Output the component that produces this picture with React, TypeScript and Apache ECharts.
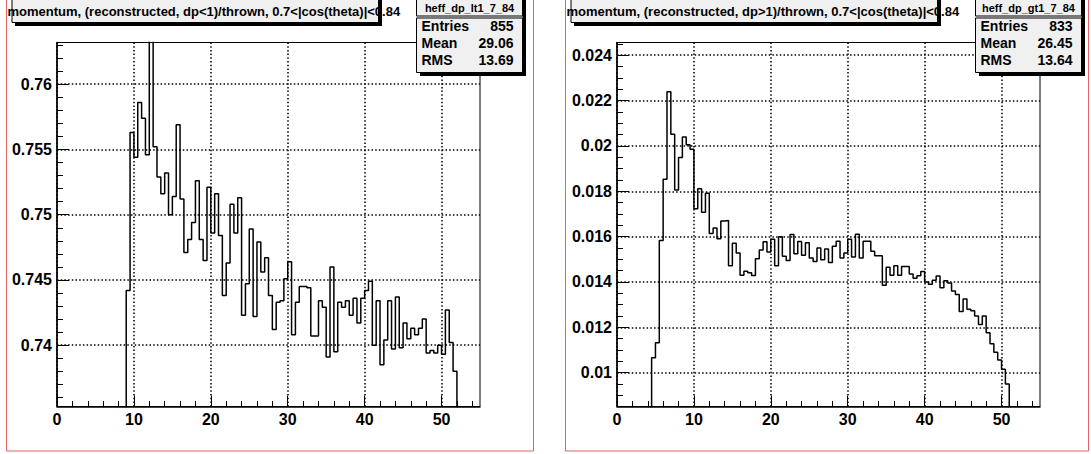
import React, { useEffect, useRef } from "react";
import * as echarts from "echarts";

// ---------------- data ----------------
const binWidth = 0.5;

// heff_dp_lt1_7_84 : bins start at 8.5 (first bin empty)
const ltStart = 8.5;
const ltValues = [
  0, 0.7442, 0.7563, 0.7544, 0.7586, 0.7574, 0.7546, 0.7665, 0.7552, 0.7529,
  0.7516, 0.7532, 0.75, 0.7514, 0.7569, 0.7512, 0.7471, 0.7481, 0.7494, 0.7526,
  0.7481, 0.7465, 0.7521, 0.7486, 0.7516, 0.7484, 0.7438, 0.7463, 0.7508, 0.7486,
  0.7513, 0.7423, 0.7447, 0.7489, 0.7422, 0.7479, 0.7456, 0.7467, 0.7438, 0.7412,
  0.7433, 0.7434, 0.7451, 0.7464, 0.7408, 0.7433, 0.7445, 0.7445, 0.7444, 0.7407,
  0.7407, 0.7434, 0.7429, 0.7391, 0.746, 0.7395, 0.7433, 0.7429, 0.7434, 0.7423,
  0.7436, 0.7417, 0.7436, 0.7442, 0.7449, 0.74, 0.7434, 0.7385, 0.7404, 0.7434,
  0.7397, 0.7437, 0.7398, 0.7417, 0.7405, 0.7413, 0.7408, 0.7413, 0.742, 0.7394,
  0.7396, 0.7394, 0.74, 0.7393, 0.7427, 0.7402, 0.738, 0,
];

// heff_dp_gt1_7_84 : bins start at 4.0 (first bin empty)
const gtStart = 4.0;
const gtValues = [
  0, 0.01066, 0.01132, 0.01583, 0.01853, 0.02239, 0.02051, 0.01806, 0.01949, 0.02039,
  0.02005, 0.01985, 0.01723, 0.01811, 0.01708, 0.01791, 0.01614, 0.01638, 0.01591, 0.01669,
  0.01671, 0.01472, 0.01571, 0.01528, 0.0143, 0.01447, 0.01441, 0.01429, 0.01502, 0.01541,
  0.01577, 0.01532, 0.01588, 0.01472, 0.016, 0.01513, 0.01495, 0.01609, 0.01525, 0.01578,
  0.01518, 0.01573, 0.01506, 0.0149, 0.0155, 0.01498, 0.01546, 0.01486, 0.01558, 0.0158,
  0.01506, 0.01528, 0.01588, 0.0151, 0.0161, 0.01506, 0.0158, 0.0158, 0.01536, 0.01516,
  0.01516, 0.01386, 0.01465, 0.0143, 0.01472, 0.0143, 0.01468, 0.01468, 0.01435, 0.01416,
  0.01428, 0.01446, 0.014, 0.0139, 0.01408, 0.01426, 0.01375, 0.01405, 0.01396, 0.0136,
  0.01345, 0.0127, 0.01325, 0.0128, 0.01273, 0.0125, 0.01213, 0.0125, 0.01176, 0.01128,
  0.0109, 0.01056, 0.01015, 0.0095, 0,
];

// axis ranges and ticks
const xRange = [0, 55];
const xMajor = [0, 10, 20, 30, 40, 50];
const xMinor = [2, 4, 6, 8, 12, 14, 16, 18, 22, 24, 26, 28, 32, 34, 36, 38, 42, 44, 46, 48, 52, 54];

const ltYRange = [0.7353, 0.7632];
const ltYMajor = [0.74, 0.745, 0.75, 0.755, 0.76];
const ltYMinor = [
  0.736, 0.737, 0.738, 0.739, 0.741, 0.742, 0.743, 0.744, 0.746, 0.747, 0.748, 0.749,
  0.751, 0.752, 0.753, 0.754, 0.756, 0.757, 0.758, 0.759, 0.761, 0.762, 0.763,
];

const gtYRange = [0.00851, 0.02456];
const gtYMajor = [0.01, 0.012, 0.014, 0.016, 0.018, 0.02, 0.022, 0.024];
const gtYMinor = [
  0.009, 0.0095, 0.0105, 0.011, 0.0115, 0.0125, 0.013, 0.0135, 0.0145, 0.015, 0.0155,
  0.0165, 0.017, 0.0175, 0.0185, 0.019, 0.0195, 0.0205, 0.021, 0.0215, 0.0225, 0.023,
  0.0235, 0.0245,
];

const ltTitle = "momentum, (reconstructed, dp<1)/thrown, 0.7<|cos(theta)|<0.84";
const gtTitle = "momentum, (reconstructed, dp>1)/thrown, 0.7<|cos(theta)|<0.84";
const ltStats = { name: "heff_dp_lt1_7_84", entries: "855", mean: "29.06", rms: "13.69" };
const gtStats = { name: "heff_dp_gt1_7_84", entries: "833", mean: "26.45", rms: "13.64" };

// ---------------- helpers ----------------
const FONT = "'Liberation Sans', Arial, Helvetica, sans-serif";

function histPoints(start: number, values: number[]) {
  const pts = values.map((v, i) => [start + i * binWidth, v]);
  pts.push([start + values.length * binWidth, values[values.length - 1]]);
  return pts;
}

function majorAxis(gridIndex: number, range: number[], major: number[], isX: boolean) {
  return {
    type: "value",
    gridIndex,
    position: isX ? "bottom" : "left",
    min: range[0],
    max: range[1],
    axisLine: { show: true, onZero: false, lineStyle: { color: "#000", width: 1.5 } },
    axisTick: {
      show: true,
      inside: true,
      length: isX ? 11 : 12,
      customValues: major,
      lineStyle: { color: "#000", width: 1 },
    },
    axisLabel: {
      show: true,
      customValues: major,
      margin: 5,
      color: "#000",
      fontFamily: FONT,
      fontWeight: "bold",
      fontSize: 16,
      showMinLabel: true,
      showMaxLabel: true,
      hideOverlap: false,
    },
    splitLine: {
      show: true,
      lineStyle: { color: "#000", width: 1.5, type: [1.5, 2.2] },
    },
    minorTick: { show: false },
    minorSplitLine: { show: false },
  };
}

function minorAxis(gridIndex: number, range: number[], minor: number[], isX: boolean) {
  return {
    type: "value",
    gridIndex,
    position: isX ? "bottom" : "left",
    min: range[0],
    max: range[1],
    axisLine: { show: false, onZero: false },
    axisTick: {
      show: true,
      inside: true,
      length: isX ? 5.5 : 6,
      customValues: minor,
      lineStyle: { color: "#000", width: 1 },
    },
    axisLabel: { show: false },
    splitLine: { show: false },
  };
}

function padGraphics(dx: number, padW: number, title: string, st: typeof ltStats) {
  const els: any[] = [];
  // pad border
  els.push({
    type: "rect",
    z: 1,
    shape: { x: 6.5 + dx, y: -10, width: padW, height: 461 },
    style: { fill: "none", stroke: "#e06666", lineWidth: 1 },
  });
  // title pave
  els.push({
    type: "rect",
    z: 100,
    shape: { x: 12 + dx, y: -3, width: 366.5, height: 25.5 },
    style: { fill: "#f0f0f0", stroke: "#000", lineWidth: 1 },
  });
  els.push({
    type: "text",
    z: 101,
    x: 7.5 + dx,
    y: 11.5,
    style: {
      text: title,
      fill: "#000",
      fontFamily: FONT,
      fontWeight: "bold",
      fontSize: 13,
      align: "left",
      verticalAlign: "middle",
    },
  });
  els.push({
    type: "rect",
    z: 102,
    shape: { x: 378.5 + dx, y: 0, width: 3.5, height: 26 },
    style: { fill: "#000" },
  });
  els.push({
    type: "rect",
    z: 102,
    shape: { x: 15 + dx, y: 22.5, width: 367, height: 3.5 },
    style: { fill: "#000" },
  });
  // stats pave
  const sx = 416.5 + dx;
  const sw = 106;
  els.push({
    type: "rect",
    z: 100,
    shape: { x: sx, y: -3, width: sw, height: 19 },
    style: { fill: "#f0f0f0", stroke: "#000", lineWidth: 1 },
  });
  els.push({
    type: "rect",
    z: 100,
    shape: { x: sx, y: 18, width: sw, height: 54.5 },
    style: { fill: "#f0f0f0", stroke: "#000", lineWidth: 1 },
  });
  els.push({
    type: "rect",
    z: 99,
    shape: { x: sx, y: 15, width: sw, height: 4 },
    style: { fill: "#f0f0f0" },
  });
  els.push({
    type: "rect",
    z: 102,
    shape: { x: sx + sw, y: 0, width: 3.5, height: 76 },
    style: { fill: "#000" },
  });
  els.push({
    type: "rect",
    z: 102,
    shape: { x: sx + 3.5, y: 72.5, width: sw, height: 3.5 },
    style: { fill: "#000" },
  });
  els.push({
    type: "text",
    z: 101,
    x: sx + sw / 2,
    y: 8,
    style: {
      text: st.name,
      fill: "#000",
      fontFamily: FONT,
      fontWeight: "bold",
      fontSize: 11,
      align: "center",
      verticalAlign: "middle",
    },
  });
  const rows = [
    ["Entries", st.entries, 26],
    ["Mean", st.mean, 43],
    ["RMS", st.rms, 60],
  ];
  rows.forEach(([k, v, y]) => {
    els.push({
      type: "text",
      z: 101,
      x: sx + 5,
      y,
      style: {
        text: k,
        fill: "#000",
        fontFamily: FONT,
        fontWeight: "bold",
        fontSize: 14,
        align: "left",
        verticalAlign: "middle",
      },
    });
    els.push({
      type: "text",
      z: 101,
      x: sx + sw - 9,
      y,
      style: {
        text: v,
        fill: "#000",
        fontFamily: FONT,
        fontWeight: "bold",
        fontSize: 14,
        align: "right",
        verticalAlign: "middle",
      },
    });
  });
  return els;
}

export default function App() {
  const ref = useRef<HTMLDivElement>(null);

  useEffect(() => {
    if (!ref.current) return;
    const chart = echarts.init(ref.current, undefined, { renderer: "svg" });
    const gridBase = {
      top: 42.5,
      width: 423,
      height: 364,
      show: true,
      borderColor: "#000",
      borderWidth: 1,
      backgroundColor: "transparent",
      containLabel: false,
      outerBoundsMode: "none",
    };
    const option: any = {
      animation: false,
      backgroundColor: "#ffffff",
      grid: [
        { ...gridBase, left: 57 },
        { ...gridBase, left: 617 },
      ],
      xAxis: [
        majorAxis(0, xRange, xMajor, true),
        minorAxis(0, xRange, xMinor, true),
        majorAxis(1, xRange, xMajor, true),
        minorAxis(1, xRange, xMinor, true),
      ],
      yAxis: [
        majorAxis(0, ltYRange, ltYMajor, false),
        minorAxis(0, ltYRange, ltYMinor, false),
        majorAxis(1, gtYRange, gtYMajor, false),
        minorAxis(1, gtYRange, gtYMinor, false),
      ],
      series: [
        {
          type: "line",
          xAxisIndex: 0,
          yAxisIndex: 0,
          data: histPoints(ltStart, ltValues),
          step: "end",
          symbol: "none",
          showSymbol: false,
          clip: true,
          silent: true,
          lineStyle: { color: "#000", width: 1.5 },
        },
        {
          type: "line",
          xAxisIndex: 2,
          yAxisIndex: 2,
          data: histPoints(gtStart, gtValues),
          step: "end",
          symbol: "none",
          showSymbol: false,
          clip: true,
          silent: true,
          lineStyle: { color: "#000", width: 1.5 },
        },
      ],
      graphic: [
        ...padGraphics(0, 527, ltTitle, ltStats),
        ...padGraphics(559, 523, gtTitle, gtStats),
      ],
    };
    chart.setOption(option);
    return () => chart.dispose();
  }, []);

  return (
    <div
      ref={ref}
      style={{ position: "fixed", left: 0, top: 0, width: 1091, height: 454, background: "#fff" }}
    />
  );
}
